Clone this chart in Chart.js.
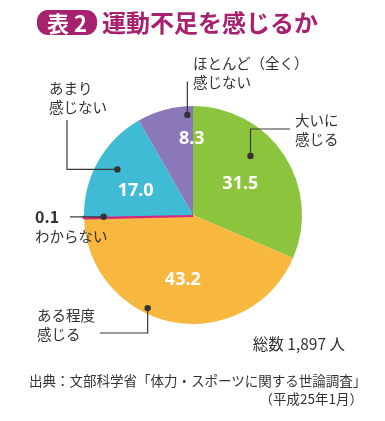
<!DOCTYPE html>
<html><head><meta charset="utf-8">
<script src="https://cdn.jsdelivr.net/npm/chart.js@4"></script>
<style>
html,body{margin:0;padding:0;background:#fff;}
#wrap{position:relative;width:385px;height:421px;overflow:hidden;font-family:"Noto Sans CJK JP","Noto Sans",sans-serif;color:#333;}
canvas{position:absolute;left:0;top:0;}
.t{position:absolute;white-space:nowrap;font-size:14.5px;line-height:19px;}
.badge{position:absolute;left:37px;top:10px;width:60px;height:25px;border-radius:11px;background:#a8216f;color:#fff;font-weight:bold;font-size:22px;line-height:25px;text-align:center;}
.title{position:absolute;left:102px;top:8px;font-size:24px;line-height:28px;font-weight:bold;color:#a8216f;white-space:nowrap;}
.foot{position:absolute;white-space:nowrap;font-size:13.5px;line-height:18px;color:#333;}
</style></head>
<body><div id="wrap">
<canvas id="c" width="385" height="421"></canvas>
<div class="badge">表 2</div>
<div class="title">運動不足を感じるか</div>
<div class="t" style="left:193px;top:53px">ほとんど（全く）</div>
<div class="t" style="left:193px;top:72px">感じない</div>
<div class="t" style="left:49px;top:78px">あまり</div>
<div class="t" style="left:49px;top:97px">感じない</div>
<div class="t" style="left:295px;top:110px">大いに</div>
<div class="t" style="left:295px;top:129px">感じる</div>
<div class="t" style="left:35px;top:207px;font-weight:bold;font-size:16px;">0.1</div>
<div class="t" style="left:35px;top:226px">わからない</div>
<div class="t" style="left:37px;top:305px">ある程度</div>
<div class="t" style="left:37px;top:324px">感じる</div>
<div class="t" style="right:40px;top:334px;font-size:15.5px;">総数 1,897 人</div>
<div class="foot" style="left:29px;top:371px;">出典：文部科学省「体力・スポーツに関する世論調査」</div>
<div class="foot" style="right:22px;top:389px">（平成25年1月）</div>
</div>
<script>
const categories = ["大いに感じる", "ある程度感じる", "わからない", "あまり感じない", "ほとんど（全く）感じない"];
const values = [31.5, 43.2, 0.1, 17.0, 8.3];
const valueLabels = ["31.5", "43.2", "", "17.0", "8.3"];

const colors = ["#8cc43e", "#f8b73e", "#d3267f", "#3fbbd5", "#8b78b8"];
// label placement: angle shift from slice middle (deg), radius fraction
const labelPos = [[0, 0.52], [-2, 0.60], [0, 0], [-7, 0.57], [14, 0.70]];
// dot placement and leader lines
const dotPos = [[-12.4, 0.756], [15, 0.95], [0, 0.82], [1.5, 0.81], [11.7, 0.92]];
const leaders = [
  [["v", 129], ["h", 290]],
  [["v", 333], ["h", 100]],
  [["h", 70]],
  [["h", 67], ["v", 120]],
  [["v", 82], ["h", 188]]
];

function polar(arc, shiftDeg, frac) {
  const mid = (arc.startAngle + arc.endAngle) / 2 + shiftDeg * Math.PI / 180;
  const r = arc.outerRadius * frac;
  return {x: arc.x + r * Math.cos(mid), y: arc.y + r * Math.sin(mid)};
}

const overlay = {
  id: "overlay",
  afterDatasetsDraw(chart) {
    const ctx = chart.ctx;
    const arcs = chart.getDatasetMeta(0).data;
    ctx.save();
    arcs.forEach((arc, i) => {
      const p = polar(arc, dotPos[i][0], dotPos[i][1]);
      ctx.strokeStyle = "#3a3a3a";
      ctx.lineWidth = 1.2;
      ctx.beginPath();
      ctx.moveTo(p.x, p.y);
      let cx = p.x, cy = p.y;
      leaders[i].forEach(seg => {
        if (seg[0] === "v") cy = seg[1]; else cx = seg[1];
        ctx.lineTo(cx, cy);
      });
      ctx.stroke();
      ctx.fillStyle = "#333";
      ctx.beginPath();
      ctx.arc(p.x, p.y, 3.2, 0, Math.PI * 2);
      ctx.fill();
    });
    ctx.fillStyle = "#fff";
    ctx.font = "bold 18px 'Noto Sans', 'DejaVu Sans', sans-serif";
    ctx.textAlign = "center";
    ctx.textBaseline = "middle";
    arcs.forEach((arc, i) => {
      if (!valueLabels[i]) return;
      const p = polar(arc, labelPos[i][0], labelPos[i][1]);
      ctx.fillText(valueLabels[i], p.x, p.y);
    });
    ctx.restore();
  }
};

new Chart(document.getElementById("c"), {
  type: "pie",
  data: {
    labels: categories,
    datasets: [{
      data: values,
      backgroundColor: colors,
      borderColor: colors,
      borderWidth: [0, 0, 4, 0, 0],
      hoverOffset: 0
    }]
  },
  options: {
    responsive: false,
    animation: false,
    events: [],
    layout: {padding: {left: 82, right: 81, top: 104, bottom: 95}},
    plugins: {legend: {display: false}, tooltip: {enabled: false}}
  },
  plugins: [overlay]
});
</script>
</body></html>
